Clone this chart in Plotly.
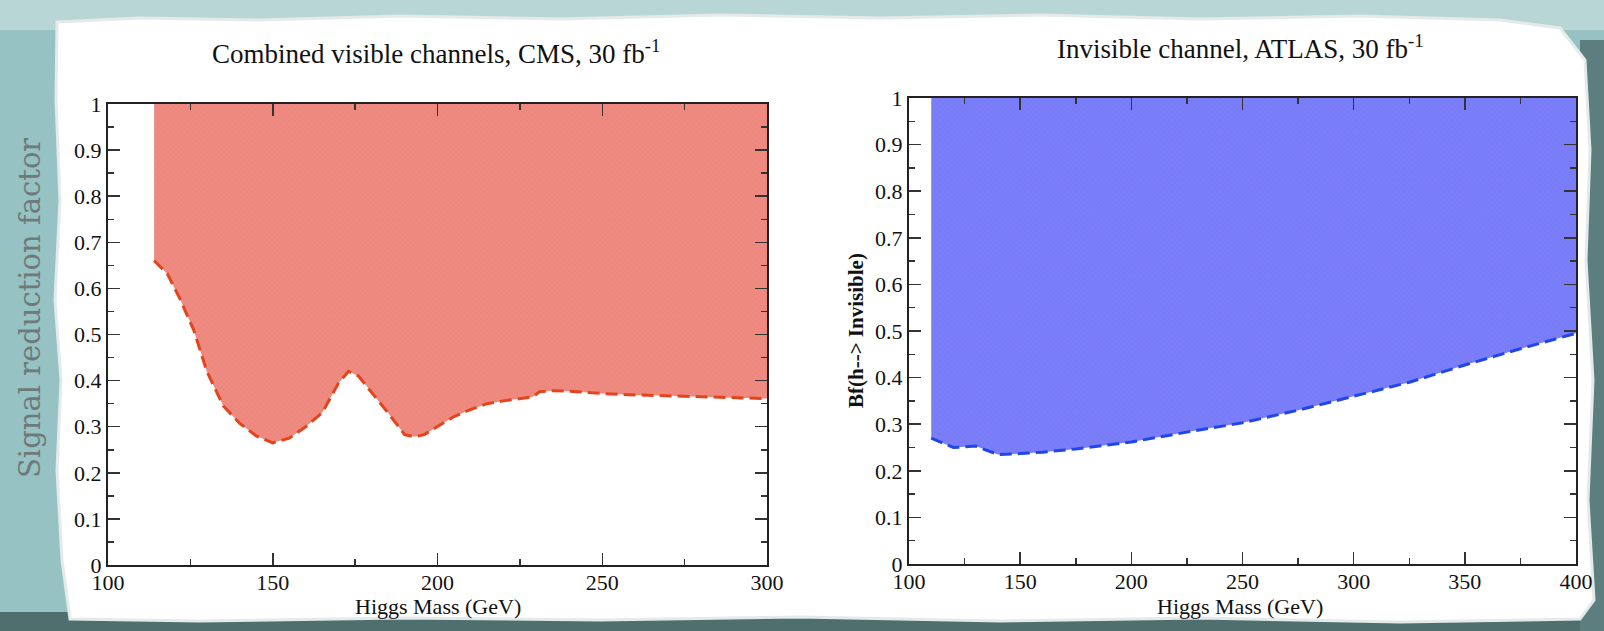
import re
import plotly.graph_objects as go

# ---- data ----
cms_mass = [114, 118, 122, 126, 130, 135, 140, 145, 150, 155, 160, 165, 170, 173, 176,
            180, 185, 190, 193, 196, 200, 205, 210, 215, 220, 225, 229, 231, 235, 240,
            250, 260, 270, 280, 290, 300]
cms_factor = [0.660, 0.632, 0.575, 0.510, 0.420, 0.345, 0.307, 0.280, 0.265, 0.275,
              0.300, 0.330, 0.395, 0.420, 0.410, 0.375, 0.330, 0.283, 0.278, 0.283,
              0.300, 0.322, 0.337, 0.350, 0.356, 0.361, 0.365, 0.376, 0.378, 0.377,
              0.372, 0.369, 0.367, 0.365, 0.363, 0.361]

atlas_mass = [110, 120, 130, 140, 150, 160, 175, 200, 225, 250, 275, 300, 325, 350, 375, 400]
atlas_bf = [0.270, 0.250, 0.253, 0.235, 0.237, 0.240, 0.247, 0.262, 0.283, 0.303, 0.330,
            0.360, 0.390, 0.427, 0.462, 0.495]

left_title = "Combined visible channels, CMS, 30 fb<sup>-1</sup>"
right_title = "Invisible channel, ATLAS, 30 fb<sup>-1</sup>"
x_title = "Higgs Mass (GeV)"
left_ytitle = "Signal reduction factor"
right_ytitle = "Bf(h--> Invisible)"
y_top = 1.0

W, H = 1604, 631
SERIF = "Liberation Serif, Times New Roman, serif"

RED_FILL = "#EE8A80"
RED_LINE = "#E4441C"
BLUE_FILL = "#7A7EF8"
BLUE_LINE = "#1F46E8"


def px_x(p):
    return p / W


def px_y(p):
    return 1 - p / H


fig = go.Figure()

# shaded excluded regions (above the curves)
fig.add_trace(go.Scatter(
    x=cms_mass + [cms_mass[-1], cms_mass[0]],
    y=cms_factor + [y_top, y_top],
    fill="toself", mode="none", fillcolor=RED_FILL,
    fillpattern=dict(shape="x", bgcolor=RED_FILL, fgcolor="#E57F76", size=4, solidity=0.25),
    xaxis="x", yaxis="y", hoverinfo="skip", showlegend=False))
fig.add_trace(go.Scatter(
    x=cms_mass, y=cms_factor, mode="lines",
    line=dict(color=RED_LINE, width=3, dash="12px,6px"),
    xaxis="x", yaxis="y", showlegend=False))

fig.add_trace(go.Scatter(
    x=atlas_mass + [atlas_mass[-1], atlas_mass[0]],
    y=atlas_bf + [y_top, y_top],
    fill="toself", mode="none", fillcolor=BLUE_FILL,
    fillpattern=dict(shape="x", bgcolor=BLUE_FILL, fgcolor="#6F73EE", size=4, solidity=0.25),
    xaxis="x2", yaxis="y2", hoverinfo="skip", showlegend=False))
fig.add_trace(go.Scatter(
    x=atlas_mass, y=atlas_bf, mode="lines",
    line=dict(color=BLUE_LINE, width=3, dash="12px,6px"),
    xaxis="x2", yaxis="y2", showlegend=False))

axis_common = dict(
    showgrid=False, zeroline=False, showline=True, linecolor="#222", linewidth=2,
    mirror="ticks", ticks="inside", ticklen=12, tickwidth=1.5, tickcolor="#333",
    tickfont=dict(family=SERIF, size=22, color="#111"), automargin=False,
)
minor_x = dict(dtick=25, ticks="inside", ticklen=6, tickwidth=1.5, tickcolor="#333")
minor_y = dict(dtick=0.05, ticks="inside", ticklen=6, tickwidth=1.5, tickcolor="#333")

fig.update_layout(
    width=W, height=H, autosize=False,
    margin=dict(l=0, r=0, t=0, b=0, pad=0, autoexpand=False),
    paper_bgcolor="#97c2c3",
    plot_bgcolor="white",
    showlegend=False,
    xaxis=dict(domain=[px_x(108), px_x(767)], range=[100, 300], dtick=50, anchor="y",
               minor=minor_x, ticklabelstandoff=-3, **axis_common),
    yaxis=dict(domain=[px_y(565), px_y(104)], range=[0, 1], dtick=0.1, anchor="x",
               minor=minor_y, **axis_common),
    xaxis2=dict(domain=[px_x(909), px_x(1576)], range=[100, 400], dtick=50, anchor="y2",
                minor=minor_x, ticklabelstandoff=-3, **axis_common),
    yaxis2=dict(domain=[px_y(564), px_y(98)], range=[0, 1], dtick=0.1, anchor="x2",
                minor=minor_y, **axis_common),
)

# background decoration: slide texture bands and torn white paper
paper_path = ("M 57,22 L 140,18 L 260,20 L 400,16 L 560,19 L 720,15 L 880,18 L 1040,15 "
              "L 1200,19 L 1360,16 L 1500,20 L 1560,28 L 1585,60 L 1590,150 L 1586,260 "
              "L 1593,380 L 1588,500 L 1594,600 L 1580,619 L 1400,622 L 1200,618 L 1000,621 "
              "L 800,617 L 600,620 L 400,618 L 200,621 L 70,619 L 62,560 L 57,470 L 61,380 "
              "L 55,300 L 60,200 L 56,100 Z")


def path_to_paper(p):
    def rep(m):
        x, y = float(m.group(1)), float(m.group(2))
        return f"{px_x(x):.5f},{px_y(y):.5f}"
    return re.sub(r"([\d.]+),([\d.]+)", rep, p)


shapes = [
    dict(type="rect", xref="paper", yref="paper", x0=0, x1=1, y0=px_y(30), y1=1,
         fillcolor="#b9d6d6", line=dict(width=0), layer="below"),
    dict(type="rect", xref="paper", yref="paper", x0=0, x1=1, y0=0, y1=px_y(612),
         fillcolor="#4f6f6f", line=dict(width=0), layer="below"),
    dict(type="rect", xref="paper", yref="paper", x0=px_x(1580), x1=1, y0=0, y1=px_y(40),
         fillcolor="#5d7e7e", line=dict(width=0), layer="below"),
    dict(type="path", xref="paper", yref="paper", path=path_to_paper(paper_path),
         fillcolor="white", line=dict(color="#e4eaea", width=3), layer="below"),
]
fig.update_layout(shapes=shapes)


def ann(text, x, y, size, color="#111", angle=0, family=SERIF, weight="normal"):
    return dict(text=text, x=px_x(x), y=px_y(y), xref="paper", yref="paper",
                xanchor="center", yanchor="middle", textangle=angle, showarrow=False,
                font=dict(family=family, size=size, color=color, weight=weight))


annotations = [
    ann(left_title, 436, 52, 27),
    ann(right_title, 1240, 47, 27),
    ann(x_title, 438, 606, 22),
    ann(x_title, 1240, 606, 22),
    ann(right_ytitle, 856, 330, 21, angle=-90, weight="bold"),
    ann(left_ytitle, 30, 308, 29, color="#6d7a79", angle=-90,
        family="DejaVu Serif, Liberation Serif, serif"),
]
fig.update_layout(annotations=annotations)

fig.write_html(
    "out.html",
    config={"displayModeBar": False, "staticPlot": True},
    post_script="document.body.style.margin='0';document.body.style.overflow='hidden';",
)
